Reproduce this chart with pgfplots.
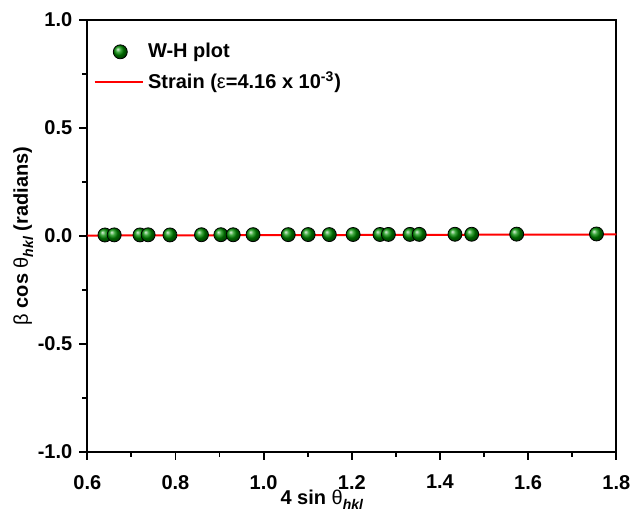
\documentclass[border=0pt]{standalone}
\usepackage{fontspec}
\setmainfont{Liberation Sans}
\usepackage{pgfplots}
\pgfplotsset{compat=1.18}
\pgfplotsset{
  ballleg/.style={legend image code/.code={\draw[##1] plot coordinates {(0.45cm,0cm)};}},
  lineleg/.style={legend image code/.code={\draw[##1] (0cm,0cm) -- (0.85cm,0cm);}},
}
\begin{document}
\begin{tikzpicture}[x=1pt,y=1pt]
\useasboundingbox (-43.65,-30.5) rectangle (272.85,226);
\begin{axis}[
  at={(0,0)}, anchor=south west,
  width=264.5pt, height=216pt, scale only axis,
  xmin=0.6, xmax=1.8, ymin=-1, ymax=1,
  xtick={0.6,0.8,...,1.8}, ytick={-1,-0.5,0,0.5,1},
  minor x tick num=1, minor y tick num=1,
  tick align=outside, xtick pos=bottom, ytick pos=left,
  major tick length=4pt, minor tick length=2.5pt,
  axis line style={line width=1pt}, every tick/.style={line width=0.9pt, black},
  tick label style={font=\fontsize{10}{12}\selectfont\bfseries},
  /pgf/number format/assume math mode=true,
  xticklabel style={yshift=-4pt, /pgf/number format/.cd, fixed, fixed zerofill, precision=1},
  yticklabel style={/pgf/number format/.cd, fixed, fixed zerofill, precision=1},
  xlabel={\bfseries 4 sin {\mdseries θ}\raisebox{-0.5ex}{\fontsize{7}{8}\selectfont\bfseries\itshape hkl}},
  ylabel={{\mdseries β} \bfseries cos {\mdseries θ}\raisebox{-0.5ex}{\fontsize{7}{8}\selectfont\bfseries\itshape hkl} (radians)},
  label style={font=\fontsize{10}{12}\selectfont},
  xlabel style={yshift=6.5pt, xshift=-15pt},
  ylabel style={yshift=-4.5pt},
  legend style={at={(rel axis cs:0.0,0.966)}, anchor=north west, draw=none, fill=none,
    font=\fontsize{10}{12}\selectfont\bfseries, row sep=1.5pt},
  legend cell align=left,
]
\addplot[only marks, mark=ball, mark size=3.5pt, mark options={ball color=green!55!black}, ballleg] coordinates {
(0.640,0.0047) (0.661,0.0052) (0.7195,0.0050) (0.738,0.0055) (0.7875,0.0049)
(0.859,0.0058) (0.903,0.0060) (0.931,0.0057) (0.976,0.0062) (1.0558,0.0063)
(1.101,0.0066) (1.149,0.0065) (1.203,0.0070) (1.264,0.0071) (1.283,0.0073)
(1.332,0.0074) (1.353,0.0076) (1.434,0.0080) (1.472,0.0081) (1.574,0.0086)
(1.755,0.0094)
};
\addlegendentry{W-H plot}
\addplot[red, line width=1pt, no marks, lineleg] coordinates {(0.6,0.0021) (1.8,0.0071)};
\addlegendentry{Strain ({\mdseries ε}=4.16 x 10\textsuperscript{-3})}
\end{axis}
\end{tikzpicture}
\end{document}
